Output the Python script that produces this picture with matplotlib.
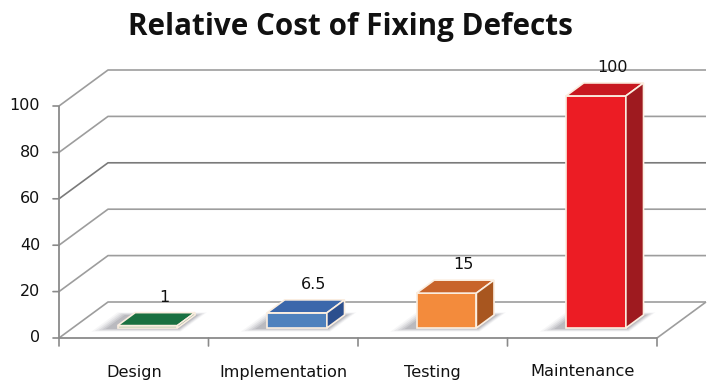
import matplotlib
matplotlib.use("Agg")
import matplotlib.pyplot as plt

categories = ["Design", "Implementation", "Testing", "Maintenance"]
values = [1, 6.5, 15, 100]
value_labels = ["1", "6.5", "15", "100"]
yticks = [0, 20, 40, 60, 80, 100]
front_colors = ["#1f7f47", "#4f81bd", "#f38b3c", "#ec1c24"]
top_colors = ["#1a7040", "#3b67ab", "#c8642a", "#c8181f"]
side_colors = ["#15603a", "#2c4f8e", "#a8561f", "#9e1a1f"]
title = "Relative Cost of Fixing Defects"

W, H, DPI = 709, 385, 100
fig = plt.figure(figsize=(W / DPI, H / DPI), dpi=DPI)
ax = fig.add_axes([0, 0, 1, 1])
ax.set_axis_off()

# pixel layout of the plotting box
px0, px1 = 59, 657          # front x extent
py0, py100 = 338, 106        # front y for 0 and 100
ncat = len(categories)
ppu_x = (px1 - px0) / ncat
ppu_y = (py0 - py100) / 100.0
ax.set_xlim(-px0 / ppu_x, (W - px0) / ppu_x)
ax.set_ylim(-(H - py0) / ppu_y, py0 / ppu_y)

DX = 49 / ppu_x   # depth offset in x units
DY = 36 / ppu_y   # depth offset in value units


def proj(x, y, d):
    return x + d * DX, y + d * DY


def poly(pts, **kw):
    xs, ys = zip(*[proj(*p) for p in pts])
    ax.fill(xs, ys, **kw)


def line(pts, **kw):
    xs, ys = zip(*[proj(*p) for p in pts])
    ax.plot(xs, ys, solid_capstyle="butt", **kw)


grid_c = "#9d9d9d"
# floor
poly([(0, 0, 0), (ncat, 0, 0), (ncat, 0, 1), (0, 0, 1)], color="white", zorder=1)
# gridlines on wall + left diagonal
for v in yticks:
    c = "#7a7a7a" if v == 60 else grid_c
    line([(0, v, 0), (0, v, 1), (ncat, v, 1)], color=c, lw=1.2, zorder=2)
# floor right edge and front edge
line([(ncat, 0, 0), (ncat, 0, 1)], color=grid_c, lw=1.2, zorder=2)
line([(0, 0, 0), (ncat, 0, 0)], color="#8a8a8a", lw=1.3, zorder=2)
# left axis
line([(0, 0, 0), (0, 100, 0)], color="#8a8a8a", lw=1.3, zorder=3)

# y ticks and labels
for v in yticks:
    ax.annotate("", xy=(0, v), xytext=(-6, 0), textcoords="offset pixels",
                arrowprops=dict(arrowstyle="-", color="#8a8a8a", lw=1.2,
                                shrinkA=0, shrinkB=0))
    ax.annotate(str(v), xy=(0, v), xytext=(-19, 0), textcoords="offset pixels",
                ha="right", va="center", fontsize=11.5, color="#111111",
                family="DejaVu Sans")

# x ticks
for i in range(ncat + 1):
    ax.annotate("", xy=(i, 0), xytext=(0, -8), textcoords="offset pixels",
                arrowprops=dict(arrowstyle="-", color="#8a8a8a", lw=1.2,
                                shrinkA=0, shrinkB=0))
for i, name in enumerate(categories):
    ax.annotate(name, xy=(i + 0.5, 0), xytext=(0, -34), textcoords="offset pixels",
                ha="center", va="center", fontsize=11.6, color="#111111",
                family="DejaVu Sans")

# bars
bw = 0.40
d0, d1 = 0.28, 0.64
for i, v in enumerate(values):
    cx = i + 0.5
    xl, xr = cx - bw / 2, cx + bw / 2
    # soft shadow
    for k, a in enumerate([0.05, 0.08, 0.10, 0.12, 0.14]):
        g = (4 - k) * 0.018
        poly([(xl - 0.07 - g, 0, d0 - 0.03 - g), (xr + 0.02 + g * 0.5, 0, d0 - 0.03 - g),
              (xr + 0.02 + g * 0.5, 0, d1 + g), (xl - 0.07 - g, 0, d1 + g)],
             color="#5a5a66", alpha=a, lw=0, zorder=4)
    ec = "#fbeee0"
    poly([(xl, 0, d0), (xr, 0, d0), (xr, v, d0), (xl, v, d0)],
         facecolor=front_colors[i], edgecolor=ec, lw=1.2, zorder=6)
    poly([(xl, v, d0), (xr, v, d0), (xr, v, d1), (xl, v, d1)],
         facecolor=top_colors[i], edgecolor=ec, lw=1.2, zorder=6)
    poly([(xr, 0, d0), (xr, 0, d1), (xr, v, d1), (xr, v, d0)],
         facecolor=side_colors[i], edgecolor=ec, lw=1.2, zorder=6)
    lx, ly = proj(cx, v, 0.62)
    ax.annotate(value_labels[i], xy=(lx, ly), xytext=(0, 16), textcoords="offset pixels",
                ha="center", va="center", fontsize=11.5, color="#111111",
                family="DejaVu Sans", zorder=7)

fig.text(350 / W, 1 - 27 / H, title, ha="center", va="center",
         fontsize=21.3, fontweight="bold", family="Open Sans", color="#111111")

fig.savefig("out.png", dpi=DPI, facecolor="white")
